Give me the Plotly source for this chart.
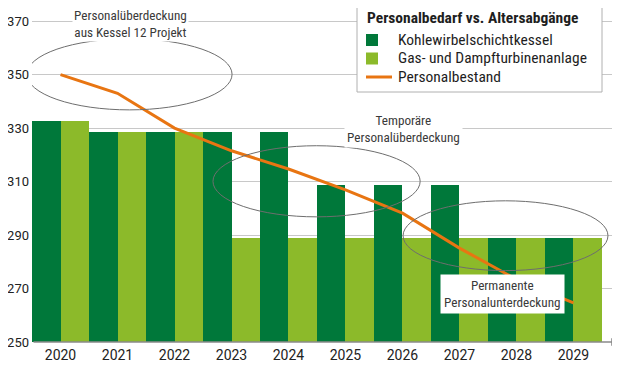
import plotly.graph_objects as go

years = ["2020", "2021", "2022", "2023", "2024", "2025", "2026", "2027", "2028", "2029"]
kohle = [332.6, 328.6, 328.6, 328.6, 328.6, 308.6, 308.6, 308.6, 288.8, 288.8]
gas = [332.6, 328.6, 328.6, 288.8, 288.8, 288.8, 288.8, 288.8, 288.8, 288.8]
bestand = [350, 343, 330, 321.5, 314.7, 306.9, 298.2, 285.1, 273.4, 264.6]
y_ticks = [250, 270, 290, 310, 330, 350, 370]
legend_title = "Personalbedarf vs. Altersabgänge"
names = ["Kohlewirbelschichtkessel", "Gas- und Dampfturbinenanlage", "Personalbestand"]

DARK = "#00783a"
LIGHT = "#8cba2a"
ORANGE = "#e87512"
NARROW = "Liberation Sans Narrow, Roboto Condensed, Roboto, sans-serif"
TICKFONT = "Roboto, Open Sans, sans-serif"

fig = go.Figure()
fig.add_trace(go.Bar(x=years, y=[v - 250 for v in kohle], base=250, name=names[0],
                     marker=dict(color=DARK, line=dict(width=0))))
fig.add_trace(go.Bar(x=years, y=[v - 250 for v in gas], base=250, name=names[1],
                     marker=dict(color=LIGHT, line=dict(width=0))))
fig.add_trace(go.Scatter(x=years, y=bestand, mode="lines", name=names[2],
                         line=dict(color=ORANGE, width=3)))

ell = dict(type="circle", xref="x", yref="y", line=dict(color="#6e6e6e", width=1), layer="above")
fig.add_shape(x0=-0.59, x1=3.01, y0=336.8, y1=363.4, **ell)
fig.add_shape(x0=2.675, x1=6.31, y0=296.8, y1=323.4, **ell)
fig.add_shape(x0=6.01, x1=9.605, y0=276.7, y1=302.8, **ell)

# x axis line with arrow
fig.add_annotation(x=1.0, xref="paper", y=250, yref="y", ax=-588, ay=0, axref="pixel", ayref="pixel",
                   text="", showarrow=True, arrowhead=2, arrowsize=1.2, arrowwidth=1.3,
                   arrowcolor="#8a8a8a")

anno_font = dict(family=NARROW, size=13.2, color="#3a3a3a")
fig.add_annotation(x=1.22, y=369.0, xref="x", yref="y", text="Personalüberdeckung<br>aus Kessel 12 Projekt",
                   showarrow=False, bgcolor="white", font=anno_font, borderpad=1)
fig.add_annotation(x=6.01, y=329.6, xref="x", yref="y", text="Temporäre<br>Personalüberdeckung",
                   showarrow=False, bgcolor="white", font=anno_font, borderpad=2)
fig.add_annotation(x=7.76, y=267.8, xref="x", yref="y", text="Permanente<br>Personalunterdeckung",
                   showarrow=False, bgcolor="white", font=anno_font, borderpad=3)

# hand-placed legend box (paper coordinates)
PW, PH = 588.0, 334.0
def px(x):
    return (x - 32) / PW
def py(y):
    return 1 - (y - 8) / PH

fig.add_shape(type="rect", xref="paper", yref="paper", x0=px(357), x1=px(602), y0=py(92), y1=py(-6),
              fillcolor="white", line=dict(color="#b0b0b0", width=1), layer="above")
fig.add_annotation(xref="paper", yref="paper", x=px(365), y=py(18), xanchor="left", yanchor="middle",
                   text="<b>" + legend_title + "</b>", showarrow=False,
                   font=dict(family=NARROW, size=15.5, color="#1e1e1e"))
item_y = [40, 58.5, 77]
fig.add_shape(type="rect", xref="paper", yref="paper", x0=px(366), x1=px(378), y0=py(item_y[0] + 6),
              y1=py(item_y[0] - 6), fillcolor=DARK, line=dict(width=0), layer="above")
fig.add_shape(type="rect", xref="paper", yref="paper", x0=px(366), x1=px(378), y0=py(item_y[1] + 6),
              y1=py(item_y[1] - 6), fillcolor=LIGHT, line=dict(width=0), layer="above")
fig.add_shape(type="line", xref="paper", yref="paper", x0=px(366), x1=px(392), y0=py(item_y[2]),
              y1=py(item_y[2]), line=dict(color=ORANGE, width=3), layer="above")
for name, yy in zip(names, item_y):
    fig.add_annotation(xref="paper", yref="paper", x=px(396), y=py(yy), xanchor="left", yanchor="middle",
                       text=name, showarrow=False, font=dict(family=NARROW, size=15.5, color="#1e1e1e"))

# page body has an 8px margin; figure sized so that it fits the 620x368 window
fig.update_layout(
    width=612, height=360,
    margin=dict(l=24, r=0, t=0, b=26, autoexpand=False),
    plot_bgcolor="white", paper_bgcolor="white",
    barmode="group", bargap=0, bargroupgap=0,
    showlegend=False,
    xaxis=dict(type="category", range=[-0.5, 9.816], showgrid=False, showline=False, ticks="",
               tickfont=dict(family=TICKFONT, size=14, color="#222"), ticklabelstandoff=3),
    yaxis=dict(range=[250, 374.9], tickvals=y_ticks, showgrid=True, gridcolor="#c8c8c8", gridwidth=1,
               zeroline=False, showline=False, ticks="",
               tickfont=dict(family=TICKFONT, size=13, color="#222"), ticklabelstandoff=2),
)

fig.write_html("out.html")
